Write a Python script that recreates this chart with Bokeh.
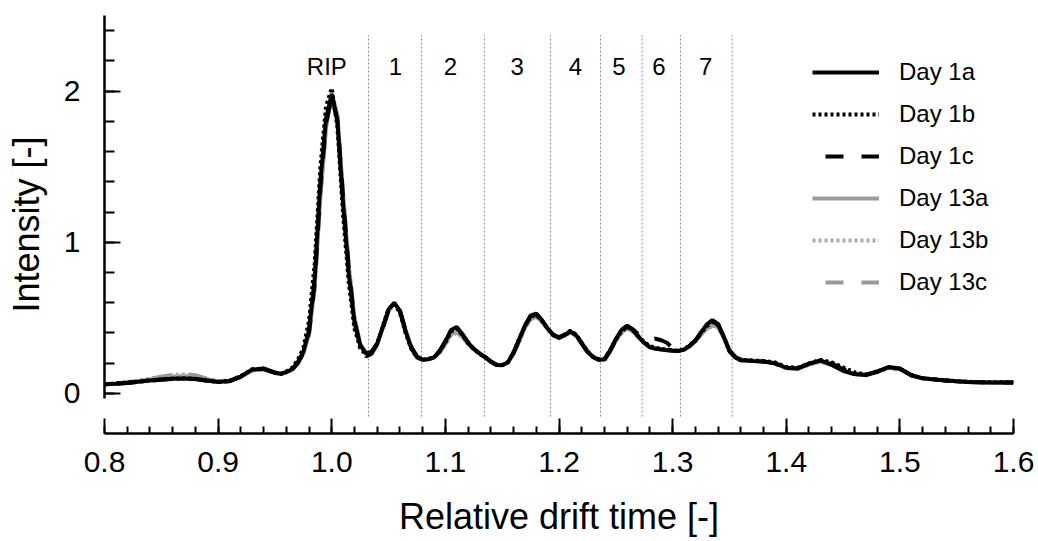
from bokeh.plotting import figure
from bokeh.models import FixedTicker, PrintfTickFormatter, Legend, LegendItem, ColumnDataSource
from bokeh.core.properties import value
from bokeh.embed import file_html
from bokeh.resources import INLINE

FONT = "Liberation Sans"

# ---------------- data ----------------
drift = [
    0.80, 0.81, 0.82, 0.83, 0.84, 0.85, 0.86, 0.87, 0.88, 0.89, 0.90, 0.91, 0.92, 0.93, 0.94, 0.95,
    0.955, 0.960, 0.965, 0.970, 0.975, 0.980, 0.985, 0.990, 0.995, 1.000,
    1.005, 1.010, 1.015, 1.020, 1.025, 1.030, 1.035, 1.040, 1.045, 1.050,
    1.055, 1.060, 1.065, 1.070, 1.075, 1.080, 1.085, 1.090, 1.095, 1.100,
    1.105, 1.110, 1.115, 1.120, 1.125, 1.130, 1.135, 1.140, 1.145, 1.150,
    1.155, 1.160, 1.165, 1.170, 1.175, 1.180, 1.185, 1.190, 1.195, 1.200,
    1.205, 1.210, 1.215, 1.220, 1.225, 1.230, 1.235, 1.240, 1.245, 1.250,
    1.255, 1.260, 1.265, 1.270, 1.275, 1.280, 1.285, 1.290, 1.295, 1.300,
    1.305, 1.310, 1.315, 1.320, 1.325, 1.330, 1.335, 1.340, 1.345, 1.350,
    1.355, 1.360,
    1.37, 1.38, 1.39, 1.40, 1.41, 1.42, 1.43, 1.44, 1.45, 1.46, 1.47, 1.48,
    1.49, 1.50, 1.51, 1.52, 1.53, 1.54, 1.55, 1.56, 1.57, 1.58, 1.59, 1.60,
]

day1a = [
    0.060, 0.064, 0.070, 0.077, 0.085, 0.092, 0.097, 0.099, 0.096, 0.085, 0.075, 0.082, 0.112, 0.158, 0.165, 0.138,
    0.130, 0.142, 0.160, 0.205, 0.275, 0.420, 0.760, 1.400, 1.820, 1.980,
    1.800, 1.250, 0.790, 0.470, 0.320, 0.265, 0.275, 0.330, 0.440, 0.555,
    0.600, 0.545, 0.410, 0.300, 0.240, 0.222, 0.226, 0.238, 0.280, 0.345,
    0.420, 0.440, 0.390, 0.335, 0.295, 0.265, 0.240, 0.210, 0.188, 0.186,
    0.205, 0.270, 0.360, 0.450, 0.515, 0.528, 0.485, 0.430, 0.385, 0.368,
    0.385, 0.410, 0.385, 0.330, 0.275, 0.240, 0.222, 0.225, 0.285, 0.360,
    0.420, 0.448, 0.420, 0.375, 0.335, 0.305, 0.296, 0.290, 0.286, 0.282,
    0.280, 0.290, 0.315, 0.350, 0.405, 0.455, 0.485, 0.460, 0.375, 0.280,
    0.240, 0.220,
    0.215, 0.212, 0.200, 0.170, 0.165, 0.195, 0.218, 0.190, 0.150, 0.128, 0.122, 0.145,
    0.175, 0.165, 0.120, 0.100, 0.093, 0.086, 0.080, 0.076, 0.074, 0.073, 0.073, 0.073,
]

day1b = [
    0.060, 0.065, 0.071, 0.078, 0.086, 0.093, 0.098, 0.100, 0.097, 0.086, 0.076, 0.083, 0.115, 0.160, 0.163, 0.136,
    0.128, 0.145, 0.168, 0.220, 0.300, 0.480, 0.860, 1.500, 1.900, 2.020,
    1.760, 1.180, 0.730, 0.430, 0.300, 0.255, 0.270, 0.330, 0.445, 0.560,
    0.595, 0.535, 0.400, 0.295, 0.238, 0.222, 0.228, 0.240, 0.278, 0.338,
    0.410, 0.430, 0.385, 0.332, 0.293, 0.262, 0.238, 0.210, 0.190, 0.188,
    0.207, 0.272, 0.360, 0.445, 0.508, 0.520, 0.480, 0.428, 0.385, 0.370,
    0.390, 0.415, 0.390, 0.335, 0.278, 0.242, 0.225, 0.228, 0.285, 0.355,
    0.412, 0.440, 0.418, 0.378, 0.340, 0.312, 0.302, 0.295, 0.290, 0.285,
    0.283, 0.292, 0.318, 0.352, 0.400, 0.445, 0.472, 0.452, 0.372, 0.282,
    0.242, 0.222,
    0.218, 0.215, 0.205, 0.175, 0.170, 0.198, 0.222, 0.205, 0.172, 0.140, 0.125, 0.143,
    0.172, 0.163, 0.122, 0.101, 0.094, 0.087, 0.081, 0.077, 0.075, 0.074, 0.074, 0.074,
]

day1c = [
    0.059, 0.063, 0.069, 0.076, 0.084, 0.091, 0.096, 0.098, 0.095, 0.084, 0.074, 0.081, 0.110, 0.155, 0.163, 0.137,
    0.129, 0.140, 0.158, 0.200, 0.268, 0.405, 0.730, 1.360, 1.790, 1.960,
    1.810, 1.290, 0.820, 0.480, 0.315, 0.245, 0.262, 0.325, 0.438, 0.550,
    0.598, 0.548, 0.415, 0.305, 0.243, 0.224, 0.228, 0.240, 0.282, 0.345,
    0.415, 0.436, 0.392, 0.338, 0.297, 0.266, 0.240, 0.211, 0.189, 0.187,
    0.206, 0.268, 0.355, 0.445, 0.510, 0.525, 0.485, 0.430, 0.388, 0.372,
    0.388, 0.412, 0.388, 0.332, 0.276, 0.240, 0.220, 0.222, 0.280, 0.355,
    0.415, 0.444, 0.425, 0.390, 0.362, 0.358, 0.362, 0.352, 0.335, 0.300,
    0.284, 0.291, 0.315, 0.348, 0.400, 0.448, 0.478, 0.455, 0.372, 0.280,
    0.240, 0.220,
    0.214, 0.211, 0.199, 0.169, 0.166, 0.197, 0.222, 0.200, 0.160, 0.132, 0.123, 0.144,
    0.174, 0.164, 0.120, 0.100, 0.093, 0.086, 0.080, 0.076, 0.074, 0.073, 0.073, 0.073,
]

day13a = [
    0.061, 0.066, 0.073, 0.082, 0.092, 0.103, 0.112, 0.116, 0.110, 0.094, 0.080, 0.084, 0.110, 0.152, 0.160, 0.135,
    0.128, 0.138, 0.155, 0.195, 0.262, 0.390, 0.700, 1.300, 1.760, 1.985,
    1.840, 1.320, 0.840, 0.500, 0.330, 0.270, 0.278, 0.330, 0.435, 0.548,
    0.595, 0.550, 0.420, 0.310, 0.246, 0.226, 0.228, 0.238, 0.272, 0.330,
    0.392, 0.405, 0.378, 0.330, 0.295, 0.266, 0.242, 0.212, 0.190, 0.188,
    0.205, 0.265, 0.350, 0.435, 0.495, 0.510, 0.478, 0.428, 0.386, 0.370,
    0.386, 0.405, 0.385, 0.334, 0.280, 0.243, 0.225, 0.228, 0.282, 0.350,
    0.405, 0.430, 0.412, 0.372, 0.335, 0.308, 0.298, 0.292, 0.288, 0.284,
    0.282, 0.290, 0.312, 0.345, 0.392, 0.432, 0.450, 0.440, 0.375, 0.290,
    0.246, 0.224,
    0.216, 0.212, 0.198, 0.168, 0.163, 0.192, 0.212, 0.188, 0.150, 0.128, 0.121, 0.142,
    0.170, 0.162, 0.120, 0.100, 0.093, 0.086, 0.080, 0.076, 0.074, 0.073, 0.073, 0.073,
]

day13b = [
    0.062, 0.067, 0.075, 0.086, 0.098, 0.112, 0.123, 0.126, 0.118, 0.098, 0.082, 0.085, 0.112, 0.154, 0.161, 0.136,
    0.129, 0.139, 0.156, 0.198, 0.266, 0.398, 0.720, 1.330, 1.780, 1.970,
    1.820, 1.300, 0.830, 0.495, 0.328, 0.268, 0.276, 0.328, 0.432, 0.545,
    0.590, 0.546, 0.418, 0.308, 0.245, 0.225, 0.227, 0.237, 0.270, 0.325,
    0.385, 0.398, 0.372, 0.328, 0.293, 0.264, 0.240, 0.211, 0.189, 0.187,
    0.204, 0.262, 0.345, 0.430, 0.490, 0.505, 0.474, 0.425, 0.384, 0.368,
    0.384, 0.402, 0.382, 0.332, 0.278, 0.242, 0.224, 0.227, 0.280, 0.348,
    0.402, 0.428, 0.410, 0.370, 0.333, 0.306, 0.296, 0.291, 0.287, 0.283,
    0.281, 0.289, 0.310, 0.343, 0.388, 0.428, 0.446, 0.436, 0.372, 0.288,
    0.245, 0.223,
    0.215, 0.211, 0.197, 0.167, 0.162, 0.190, 0.210, 0.186, 0.149, 0.127, 0.120, 0.141,
    0.169, 0.161, 0.119, 0.099, 0.092, 0.085, 0.079, 0.075, 0.073, 0.072, 0.072, 0.072,
]

day13c = [
    0.061, 0.066, 0.074, 0.084, 0.096, 0.110, 0.122, 0.128, 0.120, 0.099, 0.081, 0.084, 0.111, 0.153, 0.161, 0.136,
    0.128, 0.139, 0.156, 0.197, 0.265, 0.395, 0.715, 1.320, 1.775, 1.980,
    1.830, 1.310, 0.835, 0.498, 0.330, 0.268, 0.277, 0.330, 0.436, 0.548,
    0.594, 0.548, 0.418, 0.308, 0.245, 0.226, 0.228, 0.238, 0.272, 0.328,
    0.390, 0.402, 0.375, 0.330, 0.294, 0.265, 0.241, 0.212, 0.190, 0.188,
    0.205, 0.264, 0.348, 0.432, 0.494, 0.508, 0.476, 0.427, 0.385, 0.369,
    0.385, 0.404, 0.384, 0.333, 0.279, 0.242, 0.225, 0.228, 0.281, 0.349,
    0.404, 0.429, 0.411, 0.371, 0.334, 0.307, 0.297, 0.292, 0.288, 0.284,
    0.282, 0.290, 0.311, 0.344, 0.390, 0.430, 0.446, 0.438, 0.374, 0.290,
    0.246, 0.224,
    0.216, 0.212, 0.199, 0.168, 0.164, 0.193, 0.214, 0.189, 0.151, 0.128, 0.121, 0.142,
    0.170, 0.162, 0.120, 0.100, 0.093, 0.086, 0.080, 0.076, 0.074, 0.073, 0.073, 0.073,
]

region_labels = ["RIP", "1", "2", "3", "4", "5", "6", "7"]
region_label_x = [0.9957, 1.0561, 1.1045, 1.1632, 1.2145, 1.2527, 1.2879, 1.3290]
region_label_y = [2.165] * len(region_labels)
divider_x = [1.0323, 1.0790, 1.1344, 1.1925, 1.2365, 1.2732, 1.3069, 1.3524]

x_major_ticks = [0.8, 0.9, 1.0, 1.1, 1.2, 1.3, 1.4, 1.5, 1.6]
y_major_ticks = [0, 1, 2]

for s in (day1a, day1b, day1c, day13a, day13b, day13c):
    assert len(s) == len(drift), len(s)

# ---------------- figure ----------------
p = figure(width=1036, height=539, x_range=(0.8, 1.6), y_range=(-0.265, 2.5),
           output_backend="svg", toolbar_location=None,
           min_border_left=104, min_border_right=23, min_border_top=15, min_border_bottom=100)
p.xgrid.visible = False
p.ygrid.visible = False
p.outline_line_color = None
p.background_fill_color = "white"
p.border_fill_color = "white"

# region dividers
p.segment(x0=divider_x, y0=[-0.153] * len(divider_x), x1=divider_x, y1=[2.37] * len(divider_x),
          line_color="#8c8c8c", line_width=1, line_dash="2 2")

# region labels
p.text(x=region_label_x, y=region_label_y, text=region_labels, text_font=value(FONT),
       text_font_size="24px", text_align="center", text_baseline="middle", text_color="black")

src = ColumnDataSource(dict(x=drift, a=day1a, b=day1b, c=day1c, d=day13a, e=day13b, f=day13c))
GRAY = "#9a9a9a"
LW = 4
r13a = p.line("x", "d", source=src, line_color=GRAY, line_width=LW)
r13b = p.line("x", "e", source=src, line_color="#aaaaaa", line_width=LW, line_dash="3 3")
r13c = p.line("x", "f", source=src, line_color=GRAY, line_width=LW, line_dash="18 18", line_dash_offset=23)
r1c = p.line("x", "c", source=src, line_color="black", line_width=LW, line_dash="18 18", line_dash_offset=23)
r1b = p.line("x", "b", source=src, line_color="black", line_width=LW, line_dash="3 3")
r1a = p.line("x", "a", source=src, line_color="black", line_width=LW)

legend = Legend(items=[
    LegendItem(label="Day 1a", renderers=[r1a]),
    LegendItem(label="Day 1b", renderers=[r1b]),
    LegendItem(label="Day 1c", renderers=[r1c]),
    LegendItem(label="Day 13a", renderers=[r13a]),
    LegendItem(label="Day 13b", renderers=[r13b]),
    LegendItem(label="Day 13c", renderers=[r13c]),
], location=(708, 137))
legend.border_line_color = None
legend.background_fill_alpha = 0
legend.padding = 0
legend.margin = 0
legend.glyph_width = 67
legend.glyph_height = 20
legend.label_standoff = 20
legend.spacing = 14
legend.label_text_font = FONT
legend.label_text_font_size = "24px"
legend.label_text_color = "black"
p.add_layout(legend)

# axes
xa = p.xaxis[0]
xa.ticker = FixedTicker(ticks=x_major_ticks, minor_ticks=[round(0.8 + 0.02 * i, 2) for i in range(41)])
xa.formatter = PrintfTickFormatter(format="%.1f")
xa.major_tick_in = 15
xa.major_tick_out = 0
xa.minor_tick_in = 7
xa.minor_tick_out = 0
xa.axis_line_width = 2.5
xa.major_tick_line_width = 2
xa.minor_tick_line_width = 2
xa.major_label_text_font = FONT
xa.major_label_text_font_size = "30px"
xa.major_label_text_color = "black"
xa.major_label_standoff = 18
xa.axis_label = "Relative drift time [-]"
xa.axis_label_text_font = FONT
xa.axis_label_text_font_size = "36px"
xa.axis_label_text_font_style = "normal"
xa.axis_label_text_color = "black"
xa.axis_label_standoff = 21

ya = p.yaxis[0]
ya.ticker = FixedTicker(ticks=y_major_ticks, minor_ticks=[round(0.2 * i, 1) for i in range(13)])
ya.bounds = (-0.035, 2.5)
ya.major_tick_in = 16
ya.major_tick_out = 0
ya.minor_tick_in = 10
ya.minor_tick_out = 0
ya.axis_line_width = 2.5
ya.major_tick_line_width = 2
ya.minor_tick_line_width = 2
ya.major_label_text_font = FONT
ya.major_label_text_font_size = "30px"
ya.major_label_text_color = "black"
ya.major_label_standoff = 24
ya.axis_label = "Intensity [-]"
ya.axis_label_text_font = FONT
ya.axis_label_text_font_size = "36px"
ya.axis_label_text_font_style = "normal"
ya.axis_label_text_color = "black"
ya.axis_label_standoff = 14

open("out.html", "w").write(file_html(p, INLINE))
